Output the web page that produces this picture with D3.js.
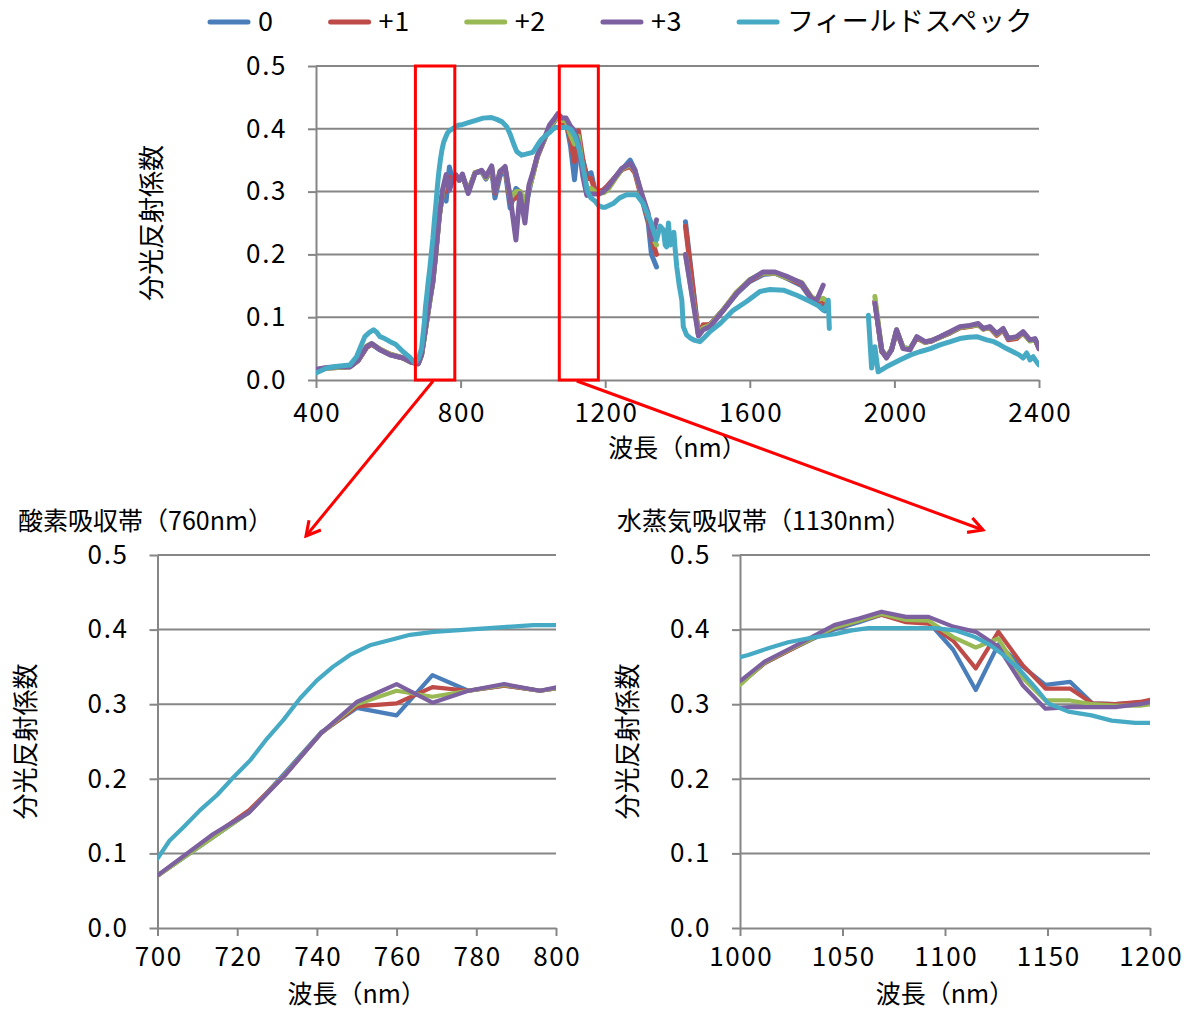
<!DOCTYPE html>
<html><head><meta charset="utf-8">
<script src="https://cdn.jsdelivr.net/npm/d3@7"></script>
<style>
body{margin:0;background:#fff}
svg text{font-family:"Noto Sans CJK JP","Noto Sans",sans-serif;fill:#000}
</style>
</head><body>
<svg id="c" width="1189" height="1012"></svg>
<script>
// ---------------- data ----------------
const seriesNames = ["0", "+1", "+2", "+3", "フィールドスペック"];
const seriesColors = ["#4A7EBB", "#BE4B48", "#98B954", "#7D60A0", "#46AAC5"];

// band wavelengths (nm) of the 4 treatments; null = no data (gap)
const bandWl = [
 400,430,460,494,517,540,554,577,605,641,
 665,683,692,700,714,723,732,741,750,760,
 769,778,787,796,805,821,840,858,870,886,
 895,909,923,937,953,964,978,989,1001,1012,
 1024,1035,1046,1058,1069,1081,1092,1104,1115,1126,
 1138,1149,1161,1172,1183,1195,1206,1246,1269,1282,
 1301,1319,1328,1342,1380,1422,1458,1471,1490,1527,
 1564,1600,1637,1670,1702,1744,1771,1785,1803,1808,
 1875,1946,1965,1978,1992,2006,2024,2043,2062,2085,
 2103,2126,2154,2181,2209,2232,2246,2264,2283,2301,
 2315,2338,2356,2375,2389,2400];
const band0 = [
 .015,.019,.020,.021,.031,.052,.057,.048,.040,.035,
 .028,.026,.040,.070,.122,.155,.208,.262,.295,.285,
 .339,.318,.325,.318,.325,.300,.330,.332,.320,.335,
 .290,.325,.335,.274,.305,.300,.270,.300,.330,.355,
 .372,.387,.400,.410,.420,.412,.410,.373,.319,.380,
 .350,.326,.330,.301,.300,.302,.308,.335,.350,.335,
 .290,.250,.200,.180,null,.252,.072,.085,.088,.112,
 .138,.157,.168,.170,.162,.150,.128,.122,.115,.110,
 null,.125,.045,.037,.048,.079,.052,.050,.067,.060,
 .062,.068,.075,.083,.086,.088,.082,.084,.073,.080,
 .066,.068,.075,.063,.065,.052];
const band1 = [
 .016,.019,.020,.021,.031,.052,.057,.049,.041,.035,
 .028,.026,.040,.070,.124,.158,.205,.261,.297,.301,
 .323,.318,.325,.318,.325,.300,.330,.333,.322,.338,
 .298,.330,.338,.285,.290,.300,.280,.305,.330,.355,
 .372,.388,.402,.412,.420,.410,.408,.385,.348,.397,
 .352,.321,.321,.301,.300,.303,.309,.335,.340,.330,
 .290,.255,.225,.200,null,.245,.072,.088,.088,.112,
 .140,.158,.170,.170,.163,.152,.130,.127,.125,.120,
 null,.125,.046,.036,.048,.078,.051,.049,.067,.060,
 .062,.068,.075,.083,.085,.088,.081,.083,.071,.080,
 .064,.066,.075,.063,.064,.050];
const band2 = [
 .016,.019,.020,.021,.032,.054,.058,.049,.041,.035,
 .028,.026,.040,.070,.122,.155,.206,.261,.300,.318,
 .310,.318,.326,.318,.326,.300,.330,.333,.322,.338,
 .300,.333,.338,.290,.300,.300,.285,.305,.328,.356,
 .373,.388,.403,.412,.421,.413,.412,.390,.376,.388,
 .335,.305,.305,.300,.298,.298,.302,.336,.343,.333,
 .295,.260,.230,.215,null,.200,.075,.083,.087,.112,
 .140,.160,.170,.170,.163,.155,.132,.128,.130,.128,
 null,.133,.048,.038,.048,.080,.052,.049,.068,.060,
 .063,.068,.076,.084,.086,.088,.081,.084,.073,.081,
 .066,.068,.075,.062,.064,.052];
const band3 = [
 .017,.020,.021,.021,.032,.053,.058,.048,.040,.035,
 .028,.026,.040,.0705,.126,.155,.205,.261,.303,.327,
 .302,.318,.327,.318,.328,.297,.329,.334,.324,.341,
 .300,.332,.340,.292,.223,.297,.250,.310,.333,.357,
 .374,.390,.406,.415,.424,.417,.417,.404,.397,.377,
 .325,.294,.296,.296,.296,.300,.306,.337,.345,.334,
 .297,.265,.223,.255,null,.200,.070,.080,.085,.111,
 .138,.159,.172,.172,.165,.154,.130,.127,.151,null,
 null,.122,.048,.035,.048,.080,.050,.048,.069,.061,
 .063,.069,.077,.085,.087,.090,.082,.085,.074,.082,
 .066,.069,.077,.064,.066,.050];

// field spectrometer (フィールドスペック)
const fsWl = [
 400,430,460,494,512,535,548,559,568,577,
 590,605,620,641,660,674,684,692,700,703,
 706.5,710.7,714.9,718.7,723.3,727.5,731.6,735.8,740,744,
 748.3,753.3,758.4,763.4,769.3,777.6,786,794.3,800,817,
 840,862,885,900,915,928,938,946,955,969,
 983,997,1000,1004,1013.8,1023.5,1036.6,1046.3,1054.5,1062.6,
 1080,1095,1104.9,1114.6,1121.1,1127.6,1135.8,1143.9,1150.4,1160.2,
 1171.5,1181.3,1192.7,1200,1222,1240,1259,1287,1305,1324,
 1342,1352,1361,1366,1370,1375,1380,1384,1390,1393,
 1398,1405,1412,1416,1425,1435,1448,1462,1475,1490,
 1518,1554,1591,1628,1656,1693,1730,1767,1790,1803,
 1812,1817,1820,1870,1928,1937,1946,1955,1978,2015,
 2045,2070,2100,2126,2155,2181,2205,2228,2255,2275,
 2292,2310,2328,2345,2356,2366,2375,2384,2392,2400];
const fsVal = [
 .011,.019,.022,.024,.037,.069,.076,.080,.076,.069,
 .066,.061,.057,.045,.036,.027,.035,.050,.093,.117,
 .135,.158,.178,.200,.225,.254,.279,.308,.332,.350,
 .366,.379,.386,.393,.397,.400,.403,.406,.406,.409,
 .413,.417,.418,.415,.411,.403,.390,.377,.364,.358,
 .360,.362,.363,.366,.375,.383,.390,.394,.399,.402,
 .402,.402,.399,.390,.381,.368,.348,.323,.301,.290,
 .285,.278,.275,.275,.281,.290,.295,.295,.281,.255,
 .223,.245,.239,.215,.212,.250,.215,.223,.235,.212,
 .180,.150,.127,.085,.072,.067,.063,.061,.068,.077,
 .090,.111,.125,.141,.144,.143,.135,.125,.118,.111,
 .118,.127,.082,null,.103,.019,.053,.013,.021,.032,
 .040,.045,.050,.056,.061,.066,.068,.069,.064,.061,
 .056,.050,.045,.040,.035,.043,.032,.037,.030,.024];

const yTicks = [0, 0.1, 0.2, 0.3, 0.4, 0.5];
const topXTicks = [400, 800, 1200, 1600, 2000, 2400];
const o2XTicks = [700, 720, 740, 760, 780, 800];
const h2oXTicks = [1000, 1050, 1100, 1150, 1200];
const zoomRanges = [[675, 784], [1073, 1181]];   // red boxes on the main chart (nm)
const xTitle = "波長（nm）";
const yTitle = "分光反射係数";
const o2Title = "酸素吸収帯（760nm）";
const h2oTitle = "水蒸気吸収帯（1130nm）";

// ---------------- drawing ----------------
const FONT = '"Noto Sans CJK JP","Noto Sans",sans-serif';
const GRID = "#868686";
const svg = d3.select("#c");
const bandSeries = [band0, band1, band2, band3];

function seriesData() {
  const out = bandSeries.map(vals => bandWl.map((w, i) => [w, vals[i]]));
  out.push(fsWl.map((w, i) => [w, fsVal[i]]));
  return out;
}
const allSeries = seriesData();

function panel(p, id) {
  const x = d3.scaleLinear().domain(p.domain).range([p.left, p.right]);
  const y = d3.scaleLinear().domain([0, 0.5]).range([p.bottom, p.top]);
  const g = svg.append("g");
  g.selectAll("line.grid").data(yTicks.filter(v => v > 0)).join("line")
    .attr("x1", p.left).attr("x2", p.right)
    .attr("y1", d => y(d)).attr("y2", d => y(d))
    .attr("stroke", GRID).attr("stroke-width", 2);
  const ya = g.append("g").attr("transform", `translate(${p.left},0)`)
    .call(d3.axisLeft(y).tickValues(yTicks).tickFormat(d3.format(".1f"))
      .tickSize(8).tickSizeOuter(0).tickPadding(21));
  const xa = g.append("g").attr("transform", `translate(0,${p.bottom})`)
    .call(d3.axisBottom(x).tickValues(p.xTicks).tickFormat(d3.format("d"))
      .tickSize(8).tickSizeOuter(0).tickPadding(p.xPad));
  [ya, xa].forEach(a => {
    a.attr("font-family", FONT).attr("font-size", 26);
    a.selectAll("path,line").attr("stroke", GRID).attr("stroke-width", 2);
    a.selectAll("text").attr("fill", "#000").attr("letter-spacing", "1.6px");
  });
  xa.selectAll("text").attr("dx", "0.8px");
  svg.append("clipPath").attr("id", id).append("rect")
    .attr("x", p.left).attr("y", p.top - 10)
    .attr("width", p.right - p.left).attr("height", p.bottom - p.top + 12);
  const line = d3.line().defined(d => d[1] != null).x(d => x(d[0])).y(d => y(d[1]));
  const lg = g.append("g").attr("clip-path", `url(#${id})`);
  allSeries.forEach((s, i) => {
    const data = s.filter(d => d[0] >= p.domain[0] - 40 && d[0] <= p.domain[1] + 40);
    lg.append("path").datum(data).attr("d", line)
      .attr("fill", "none").attr("stroke", seriesColors[i])
      .attr("stroke-width", p.lw).attr("stroke-linejoin", "round").attr("stroke-linecap", "round");
  });
  g.append("text").attr("x", (p.left + p.right) / 2).attr("y", p.xTitleY)
    .attr("text-anchor", "middle").attr("font-size", 25).text(xTitle);
  g.append("text").attr("transform", `translate(${p.yTitleX},${(p.top + p.bottom) / 2}) rotate(-90)`)
    .attr("text-anchor", "middle").attr("dy", "0.35em").attr("font-size", 26).text(yTitle);
  return { x, y, g };
}

const mainP = panel({ left: 316, right: 1039, top: 66, bottom: 380, domain: [400, 2400],
  xTicks: topXTicks, lw: 5, xPad: 16, xTitleY: 457, yTitleX: 152 }, "clipTop");
const o2P = panel({ left: 157.5, right: 556, top: 555, bottom: 928, domain: [700, 800],
  xTicks: o2XTicks, lw: 4.2, xPad: 12, xTitleY: 1003, yTitleX: 26 }, "clipO2");
const h2oP = panel({ left: 740, right: 1150, top: 555, bottom: 928, domain: [1000, 1200],
  xTicks: h2oXTicks, lw: 4.2, xPad: 12, xTitleY: 1003, yTitleX: 628 }, "clipH2O");

svg.append("text").attr("x", 18).attr("y", 530).attr("font-size", 25).text(o2Title);
svg.append("text").attr("x", 617).attr("y", 530).attr("font-size", 25).text(h2oTitle);

const defs = svg.append("defs");
defs.append("marker").attr("id", "arr").attr("viewBox", "0 0 14 14")
  .attr("refX", 12).attr("refY", 7).attr("markerWidth", 18).attr("markerHeight", 18)
  .attr("markerUnits", "userSpaceOnUse").attr("orient", "auto")
  .append("path").attr("d", "M1,1 L12,7 L1,13").attr("fill", "none")
  .attr("stroke", "#FF0000").attr("stroke-width", 2.4);
zoomRanges.forEach(r => {
  svg.append("rect").attr("x", mainP.x(r[0])).attr("y", mainP.y(0.5))
    .attr("width", mainP.x(r[1]) - mainP.x(r[0])).attr("height", mainP.y(0) - mainP.y(0.5))
    .attr("fill", "none").attr("stroke", "#FF0000").attr("stroke-width", 3);
});
const arrowEnds = [[306, 536], [983, 530]];
zoomRanges.forEach((r, i) => {
  svg.append("line").attr("x1", mainP.x((r[0] + r[1]) / 2) - 2).attr("y1", mainP.y(0) + 1)
    .attr("x2", arrowEnds[i][0]).attr("y2", arrowEnds[i][1])
    .attr("stroke", "#FF0000").attr("stroke-width", 3).attr("marker-end", "url(#arr)");
});

let lx = 208;
seriesNames.forEach((n, i) => {
  svg.append("line").attr("x1", lx + 2).attr("x2", lx + 40).attr("y1", 22).attr("y2", 22)
    .attr("stroke", seriesColors[i]).attr("stroke-width", 5).attr("stroke-linecap", "round");
  const t = svg.append("text").attr("x", lx + 50).attr("y", 22).attr("dy", "0.35em")
    .attr("font-size", 27).attr("letter-spacing", "0.6px").text(n);
  lx += 50 + t.node().getComputedTextLength() + 55;
});
</script>
</body></html>
